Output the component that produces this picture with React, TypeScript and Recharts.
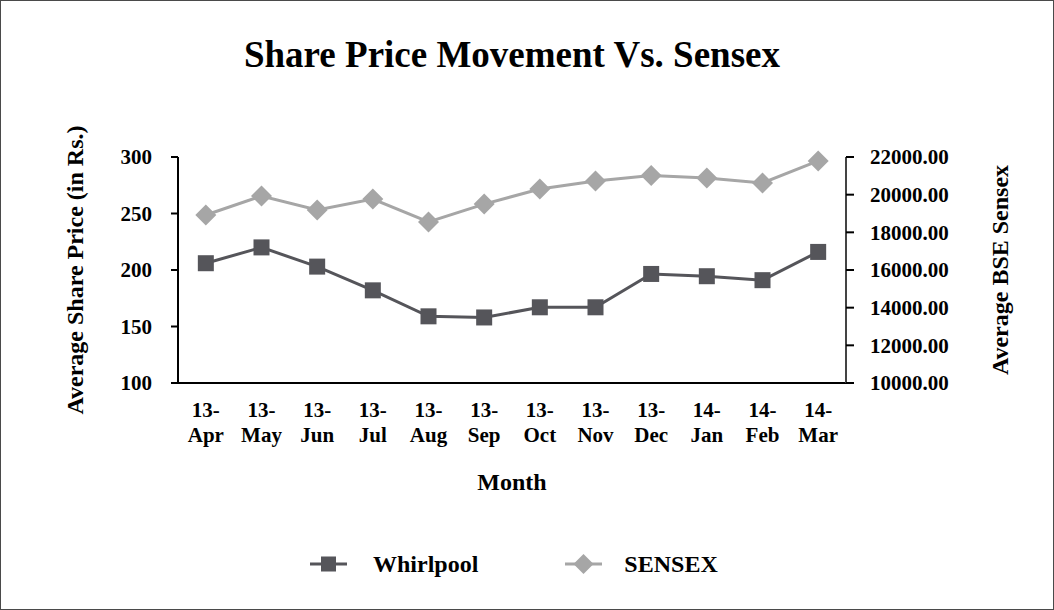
import React from "react";
import { LineChart, Line, XAxis, YAxis } from "recharts";

const months = ["13-Apr", "13-May", "13-Jun", "13-Jul", "13-Aug", "13-Sep", "13-Oct", "13-Nov", "13-Dec", "14-Jan", "14-Feb", "14-Mar"];
const whirlpool = [206, 220, 203, 182, 159, 158, 167, 167, 196.5, 194.5, 191, 216];
const sensex = [18920, 19930, 19190, 19770, 18550, 19500, 20300, 20730, 21020, 20880, 20620, 21790];
const priceTicks = [100, 150, 200, 250, 300];
const sensexTicks = [10000, 12000, 14000, 16000, 18000, 20000, 22000];
const boundaryTicks = [0, 1, 2, 3, 4, 5, 6, 7, 8, 9, 10, 11, 12];
const monthTicks = months.map((_, i) => i + 0.5);

const data = months.map((m, i) => ({ month: m, pos: i + 0.5, whirlpool: whirlpool[i], sensex: sensex[i] }));

const FONT = "'Liberation Serif', 'Times New Roman', serif";
const DARK = "#55555a";
const LIGHT = "#a6a6a6";

const MonthTick = (props: any) => {
  const { x, y, payload } = props;
  const label = months[Math.floor(payload.value)] || "";
  const [yr, mon] = label.split("-");
  return (
    <g>
      <text x={x} y={y + 26} textAnchor="middle" fontFamily={FONT} fontWeight="bold" fontSize={21} fill="#000">{yr + "-"}</text>
      <text x={x} y={y + 51} textAnchor="middle" fontFamily={FONT} fontWeight="bold" fontSize={21} fill="#000">{mon}</text>
    </g>
  );
};

const VLabel = (props: any) => {
  const { viewBox, value, dx } = props;
  const cx = viewBox.x + dx;
  const cy = viewBox.y + viewBox.height / 2;
  return (
    <text x={cx} y={cy} transform={`rotate(-90 ${cx} ${cy})`} textAnchor="middle" dominantBaseline="central"
      fontFamily={FONT} fontWeight="bold" fontSize={24} fill="#000">{value}</text>
  );
};

const HLabel = (props: any) => {
  const { viewBox, value, dy } = props;
  return (
    <text x={viewBox.x + viewBox.width / 2} y={viewBox.y + dy} textAnchor="middle"
      fontFamily={FONT} fontWeight="bold" fontSize={24} fill="#000">{value}</text>
  );
};

const SquareDot = (props: any) => {
  const { cx, cy, index } = props;
  return <rect key={"s" + index} x={cx - 8} y={cy - 8} width={16} height={16} fill={DARK} />;
};

const DiamondDot = (props: any) => {
  const { cx, cy, index } = props;
  return <path key={"d" + index} d={`M${cx},${cy - 10.5} L${cx + 10.5},${cy} L${cx},${cy + 10.5} L${cx - 10.5},${cy} Z`} fill={LIGHT} />;
};

const LegendBox = () => (
  <div style={{ position: "absolute", left: 309, top: 548, height: 30, display: "flex", alignItems: "center", fontFamily: FONT, fontWeight: "bold", fontSize: 24, color: "#000" }}>
    <svg width={37} height={22} style={{ marginRight: 26 }}>
      <line x1={0} y1={11} x2={37} y2={11} stroke={DARK} strokeWidth={3} />
      <rect x={11} y={3.5} width={15} height={15} fill={DARK} />
    </svg>
    <span style={{ marginRight: 87 }}>Whirlpool</span>
    <svg width={37} height={22} style={{ marginRight: 22 }}>
      <line x1={0} y1={11} x2={37} y2={11} stroke={LIGHT} strokeWidth={3} />
      <path d="M18.5,1 L28.5,11 L18.5,21 L8.5,11 Z" fill={LIGHT} />
    </svg>
    <span>SENSEX</span>
  </div>
);

export default function App() {
  return (
    <div style={{ position: "absolute", left: 0, top: 0, width: 1054, height: 610, boxSizing: "border-box", border: "1px solid #4a4a4a", background: "#fff" }}>
      <div style={{ position: "absolute", left: 0, width: 1022, top: 35, lineHeight: "37px", textAlign: "center", fontFamily: FONT, fontWeight: "bold", fontSize: 37, color: "#000" }}>
        Share Price Movement Vs. Sensex
      </div>
      <LineChart width={1052} height={608} data={data} margin={{ top: 156, right: 0, bottom: 0, left: 0 }}>
        <XAxis xAxisId="b" dataKey="pos" type="number" domain={[0, 12]} ticks={boundaryTicks} tick={false}
          height={8} axisLine={{ stroke: "#000", strokeWidth: 2 }} tickLine={{ stroke: "#000", strokeWidth: 2 }} tickSize={7} />
        <XAxis xAxisId="m" dataKey="pos" type="number" domain={[0, 12]} ticks={monthTicks} interval={0}
          tick={<MonthTick />} axisLine={false} tickLine={false} tickSize={0} tickMargin={0} height={218}
          label={<HLabel value="Month" dy={99} />} />
        <YAxis yAxisId="left" orientation="left" width={177} domain={[100, 300]} ticks={priceTicks}
          axisLine={{ stroke: "#000", strokeWidth: 2 }} tickLine={{ stroke: "#000", strokeWidth: 2 }} tickSize={7}
          tick={{ fontFamily: FONT, fontWeight: "bold", fontSize: 21, fill: "#000" }} tickMargin={19}
          label={<VLabel value="Average Share Price (in Rs.)" dx={74} />} />
        <YAxis yAxisId="leftIn" orientation="left" mirror domain={[100, 300]} ticks={priceTicks} tick={false}
          axisLine={false} tickLine={{ stroke: "#000", strokeWidth: 2 }} tickSize={8} />
        <YAxis yAxisId="right" orientation="right" width={207} domain={[10000, 22000]} ticks={sensexTicks}
          tickFormatter={(v: number) => v.toFixed(2)}
          axisLine={{ stroke: "#444", strokeWidth: 2 }} tickLine={{ stroke: "#000", strokeWidth: 2 }} tickSize={8}
          tick={{ fontFamily: FONT, fontWeight: "bold", fontSize: 21, fill: "#000", textAnchor: "start" }} tickMargin={16}
          label={<VLabel value="Average BSE Sensex" dx={154} />} />
        <YAxis yAxisId="rightIn" orientation="right" mirror domain={[10000, 22000]} ticks={sensexTicks} tick={false}
          axisLine={false} tickLine={{ stroke: "#000", strokeWidth: 2 }} tickSize={7} />
        <Line xAxisId="m" yAxisId="left" type="linear" dataKey="whirlpool" name="Whirlpool" stroke={DARK} strokeWidth={3}
          dot={SquareDot} activeDot={false} isAnimationActive={false} />
        <Line xAxisId="m" yAxisId="right" type="linear" dataKey="sensex" name="SENSEX" stroke={LIGHT} strokeWidth={3}
          dot={DiamondDot} activeDot={false} isAnimationActive={false} />
      </LineChart>
      <LegendBox />
    </div>
  );
}
